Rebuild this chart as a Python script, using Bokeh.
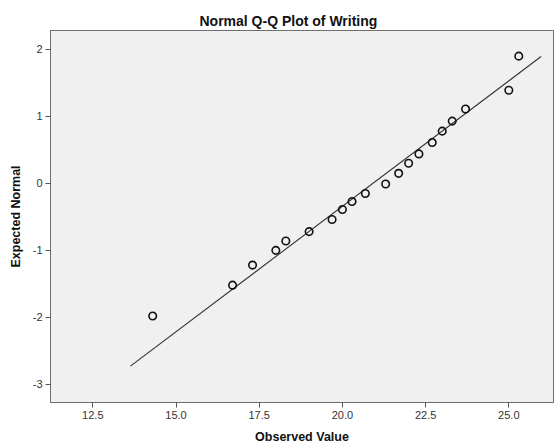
from bokeh.plotting import figure
from bokeh.models import Range1d, FixedTicker, Title
from bokeh.embed import file_html
from bokeh.resources import INLINE

# Data
observed = [14.30, 16.70, 17.30, 18.00, 18.30, 19.00, 19.69, 20.00, 20.29, 20.69,
            21.30, 21.69, 21.99, 22.30, 22.70, 23.00, 23.30, 23.70, 25.00, 25.30]
expected = [-1.98, -1.52, -1.22, -1.00, -0.86, -0.72, -0.54, -0.39, -0.27, -0.15,
            -0.01, 0.15, 0.30, 0.44, 0.61, 0.78, 0.93, 1.11, 1.39, 1.90]
line_x = [13.63, 25.97]
line_mean = 20.914
line_sd = 2.669
line_y = [(v - line_mean) / line_sd for v in line_x]
x_ticks = [12.5, 15.0, 17.5, 20.0, 22.5, 25.0]
y_ticks = [-3, -2, -1, 0, 1, 2]

FONT = "Liberation Sans"

p = figure(width=554, height=446, output_backend="svg", toolbar_location=None,
           x_range=Range1d(11.229, 26.343), y_range=Range1d(-3.272, 2.283),
           min_border_left=50, min_border_right=1, min_border_top=30, min_border_bottom=43)
p.background_fill_color = "#f0f0f0"
p.border_fill_color = "white"
p.outline_line_color = "#6e6e6e"
p.outline_line_width = 1
p.xgrid.visible = False
p.ygrid.visible = False

p.title = Title(text="Normal Q-Q Plot of Writing", align="left", offset=149,
                text_font=FONT, text_font_size="14px", text_font_style="bold",
                text_color="#111111", standoff=4)

for ax in (p.xaxis[0], p.yaxis[0]):
    ax.axis_line_color = "#6e6e6e"
    ax.major_tick_line_color = "#555555"
    ax.major_tick_out = 5
    ax.major_tick_in = 0
    ax.minor_tick_line_color = None
    ax.major_label_text_font = FONT
    ax.major_label_text_font_size = "11px"
    ax.major_label_text_color = "#333333"
    ax.axis_label_text_font = FONT
    ax.axis_label_text_font_size = "12.5px"
    ax.axis_label_text_font_style = "bold"
    ax.axis_label_text_color = "#111111"
    ax.major_label_standoff = 3

p.xaxis[0].ticker = FixedTicker(ticks=x_ticks)
p.xaxis[0].major_label_overrides = {t: f"{t:.1f}" for t in x_ticks}
p.yaxis[0].ticker = FixedTicker(ticks=y_ticks)
p.yaxis[0].major_label_overrides = {t: str(t) for t in y_ticks}
p.xaxis[0].axis_label = "Observed Value"
p.yaxis[0].axis_label = "Expected Normal"
p.xaxis[0].axis_label_standoff = 8
p.yaxis[0].axis_label_standoff = 7

p.line(line_x, line_y, line_color="#333333", line_width=1.1)
p.scatter(observed, expected, marker="circle", size=7.5, fill_color=None,
          line_color="#111111", line_width=1.6)

open("out.html", "w").write(file_html(p, INLINE))
